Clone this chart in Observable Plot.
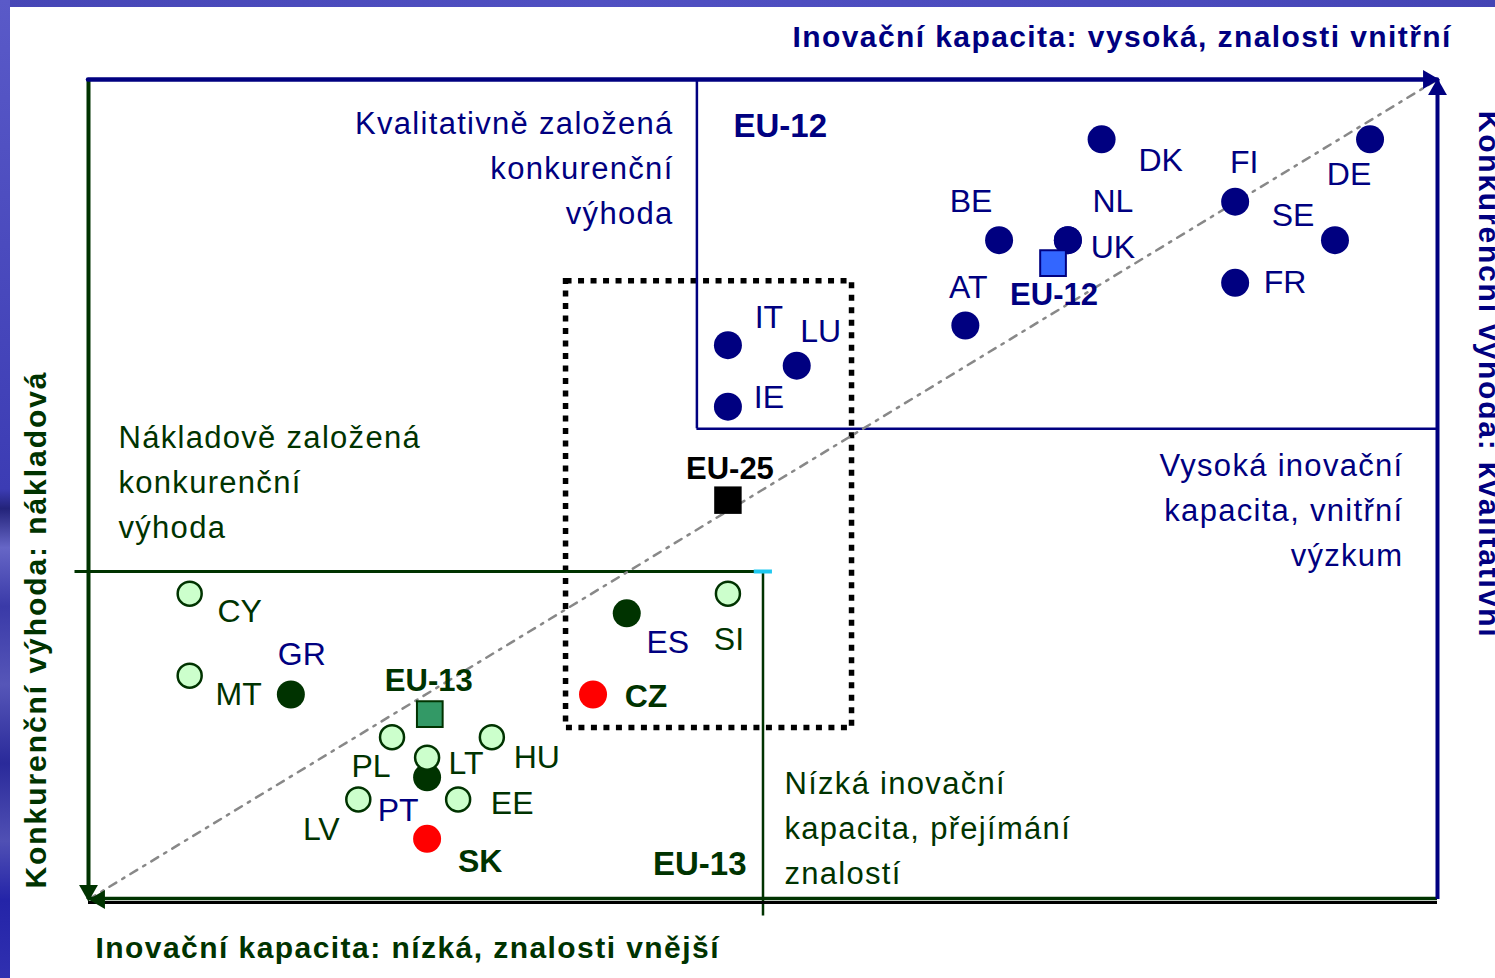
<!DOCTYPE html>
<html>
<head>
<meta charset="utf-8">
<script src="https://cdn.jsdelivr.net/npm/d3@7"></script>
<script src="https://cdn.jsdelivr.net/npm/@observablehq/plot@0.6"></script>
<style>
  html, body { margin: 0; padding: 0; background: #ffffff; overflow: hidden; width: 1495px; height: 978px; }
  #chart { position: absolute; left: 0; top: 0; }
  #topbar { position: absolute; left: 0; top: 0; width: 1495px; height: 7px; z-index: 2;
    background: linear-gradient(90deg, #4646b6, #5050c2 40%, #4a4abc 80%, #4444b4); }
  #leftbar { position: absolute; left: 0; top: 0; width: 10px; height: 978px; z-index: 2;
    background: linear-gradient(180deg, #5a5ac8 0%, #4848bc 30%, #3c3cb4 50%, #23237a 52%, #6666c6 56%, #3a3aa8 62%, #5656b8 70%, #2a2a9a 78%, #5050b4 86%, #2424a8 92%, #3030b0 100%); }
</style>
</head>
<body>
<div id="chart"></div>
<div id="topbar"></div>
<div id="leftbar"></div>
<script>
// ---------------- data ----------------
const countries   = ["DK","DE","FI","BE","NL","UK","SE","FR","AT","IT","LU","IE",
                     "GR","ES","PT",
                     "CY","MT","SI","PL","HU","LT","LV","EE",
                     "CZ","SK"];
// innovation capacity (x) and type of competitive advantage (y), 0–100 scale
const innovation  = [75.1,95.0,85.0,67.5,72.6,72.6,92.4,85.0,65.0,47.4,52.5,47.4,
                     15.0,39.9,25.1,
                     7.5,7.5,47.4,22.5,29.9,25.1,20.0,27.4,
                     37.4,25.1];
const advantage   = [92.7,92.7,85.1,80.4,80.4,80.4,80.4,75.2,70.0,67.6,65.1,60.1,
                     25.0,34.9,14.9,
                     37.3,27.3,37.3,19.8,19.8,17.3,12.2,12.2,
                     25.0,7.4];
const groups      = ["old","old","old","old","old","old","old","old","old","old","old","old",
                     "cohesion","cohesion","cohesion",
                     "new","new","new","new","new","new","new","new",
                     "focus","focus"];

const aggregates     = ["EU-12","EU-25","EU-13"];
const aggInnovation  = [71.5,47.4,25.3];
const aggAdvantage   = [77.6,48.7,22.6];

// region boundaries (same 0–100 units)
const eu12Corner = {x: 45.1, y: 57.4};
const eu13Corner = {x: 50.0, y: 40.0};
const focusBox   = [{x1: 35.4, x2: 56.6, y1: 20.9, y2: 75.4}];

// ---------------- layout / style ----------------
const W = 1495, H = 978, mL = 88, mR = 58, mT = 79, mB = 79;
const pxX = (W - mL - mR) / 100, pxY = (H - mT - mB) / 100;
const NAVY = "#000080", GREEN = "#003300", LIGHT = "#ccffcc", RED = "#ff0000";
const FONT = "'Liberation Sans', Arial, Helvetica, sans-serif";

// label offsets from the marker, in pixels
const labelOffsets = {
  DK:[59,21], DE:[-21,35], FI:[9,-39], BE:[-28,-38], NL:[45,-38], UK:[45,8], SE:[-42,-24],
  FR:[50,0], AT:[3,-38], IT:[41,-27], LU:[24,-34], IE:[41,-9],
  GR:[11,-40], ES:[41,29], PT:[-29,33],
  CY:[50,18], MT:[49,19], SI:[1,46], PL:[-21,30], HU:[45,21], LT:[39,6], LV:[-37,30], EE:[54,4],
  CZ:[53,2], SK:[53,23],
  "EU-12":[1,32], "EU-25":[2,-31], "EU-13":[-1,-33]
};

const pts = countries.map((c, i) => ({name: c, x: innovation[i], y: advantage[i], g: groups[i]}));
const aggs = aggregates.map((c, i) => ({name: c, x: aggInnovation[i], y: aggAdvantage[i]}));
const withLabel = d => {
  const o = labelOffsets[d.name] || [0, 0];
  return {...d, lx: d.x + o[0] / pxX, ly: d.y - o[1] / pxY};
};
const ptLabels = pts.map(withLabel);
const aggLabels = aggs.map(withLabel);

const notesRight = [
  {text: "Kvalitativně založená\nkonkurenční\nvýhoda", x: 43.37, y: 89.64, color: NAVY},
  {text: "Vysoká inovační\nkapacita, vnitřní\nvýzkum", x: 97.48, y: 47.93, color: NAVY}
];
const notesLeft = [
  {text: "Nákladově založená\nkonkurenční\nvýhoda", x: 2.22, y: 51.34, color: GREEN},
  {text: "Nízká inovační\nkapacita, přejímání\nznalostí", x: 51.59, y: 9.15, color: GREEN}
];

const titles = {
  top: "Inovační kapacita: vysoká, znalosti vnitřní",
  bottom: "Inovační kapacita: nízká, znalosti vnější",
  left: "Konkurenční výhoda: nákladová",
  right: "Konkurenční výhoda: kvalitativní"
};

const diagonal = [{x: 0, y: 0}, {x: 100, y: 100}];

const chart = Plot.plot({
  width: W, height: H,
  marginLeft: mL, marginRight: mR, marginTop: mT, marginBottom: mB,
  x: {domain: [0, 100], axis: null},
  y: {domain: [0, 100], axis: null},
  style: {fontFamily: FONT, background: "transparent"},
  marks: [
    // dotted focus box
    Plot.rect(focusBox, {x1: "x1", x2: "x2", y1: "y1", y2: "y2", fill: "none", stroke: "black",
      strokeWidth: 5.5, strokeDasharray: "6,6.5"}),
    // EU-12 region
    Plot.ruleX([eu12Corner.x], {y1: eu12Corner.y, y2: 100, stroke: NAVY, strokeWidth: 2.5}),
    Plot.ruleY([eu12Corner.y], {x1: eu12Corner.x, x2: 100, stroke: NAVY, strokeWidth: 2.5}),
    // EU-13 region
    Plot.ruleY([eu13Corner.y], {x1: -1, x2: eu13Corner.x, stroke: GREEN, strokeWidth: 3}),
    Plot.ruleX([eu13Corner.x], {y1: -2, y2: eu13Corner.y, stroke: GREEN, strokeWidth: 2.5}),
    Plot.ruleY([eu13Corner.y], {x1: eu13Corner.x - 0.65, x2: eu13Corner.x + 0.7, stroke: "#1ec8f0", strokeWidth: 4}),
    // diagonal
    Plot.line(diagonal, {x: "x", y: "y", stroke: "#888888", strokeWidth: 2.5, strokeDasharray: "8,7,2.5,7"}),
    // frame
    Plot.ruleX([0], {y1: 0, y2: 100, stroke: GREEN, strokeWidth: 4}),
    Plot.ruleY([0], {x1: 0, x2: 100, stroke: "black", strokeWidth: 3, dy: 3}),
    Plot.ruleY([0], {x1: 0, x2: 100, stroke: GREEN, strokeWidth: 3.5, dy: -1}),
    Plot.ruleX([100], {y1: 0, y2: 100, stroke: NAVY, strokeWidth: 4}),
    Plot.ruleY([100], {x1: 0, x2: 100, stroke: NAVY, strokeWidth: 4.5, strokeLinecap: "round"}),
    // arrowheads
    Plot.dot([{x: 100, y: 100}], {x: "x", y: "y", symbol: "triangle", r: 7, rotate: 90, dx: -9, fill: NAVY}),
    Plot.dot([{x: 100, y: 100}], {x: "x", y: "y", symbol: "triangle", r: 7, rotate: 0, dy: 10, fill: NAVY}),
    Plot.dot([{x: 0, y: 0}], {x: "x", y: "y", symbol: "triangle", r: 7, rotate: 180, dy: -9, fill: GREEN}),
    Plot.dot([{x: 0, y: 0}], {x: "x", y: "y", symbol: "triangle", r: 7, rotate: 270, dx: 11, fill: GREEN}),
    // countries
    Plot.dot(pts.filter(d => d.g === "old"), {x: "x", y: "y", r: 14, fill: NAVY}),
    Plot.dot(pts.filter(d => d.g === "cohesion"), {x: "x", y: "y", r: 14, fill: GREEN}),
    Plot.dot(pts.filter(d => d.g === "new"), {x: "x", y: "y", r: 12, fill: LIGHT, stroke: GREEN, strokeWidth: 2.5}),
    Plot.dot(pts.filter(d => d.g === "focus"), {x: "x", y: "y", r: 14, fill: RED}),
    // aggregates
    Plot.dot(aggs.filter(d => d.name === "EU-12"), {x: "x", y: "y", symbol: "square", r: 14.5, fill: "#3366ff", stroke: NAVY, strokeWidth: 2}),
    Plot.dot(aggs.filter(d => d.name === "EU-13"), {x: "x", y: "y", symbol: "square", r: 14.5, fill: "#339966", stroke: GREEN, strokeWidth: 2}),
    Plot.dot(aggs.filter(d => d.name === "EU-25"), {x: "x", y: "y", symbol: "square", r: 15.5, fill: "black"}),
    // country labels
    Plot.text(ptLabels.filter(d => d.g === "old" || d.g === "cohesion"), {x: "lx", y: "ly", text: "name", fill: NAVY, fontSize: 32}),
    Plot.text(ptLabels.filter(d => d.g === "new"), {x: "lx", y: "ly", text: "name", fill: GREEN, fontSize: 32}),
    Plot.text(ptLabels.filter(d => d.g === "focus"), {x: "lx", y: "ly", text: "name", fill: GREEN, fontSize: 32, fontWeight: "bold"}),
    Plot.text(aggLabels, {x: "lx", y: "ly", text: "name", fontSize: 31, fontWeight: "bold",
      fill: d => d.name === "EU-12" ? NAVY : d.name === "EU-13" ? GREEN : "black"}),
    // region notes
    Plot.text(notesRight, {x: "x", y: "y", text: "text", textAnchor: "end", fill: "color",
      fontSize: 31, lineHeight: 1.452}),
    Plot.text(notesLeft, {x: "x", y: "y", text: "text", textAnchor: "start", fill: "color",
      fontSize: 31, lineHeight: 1.452}),
    Plot.text(["EU-12"], {x: 47.81, y: 94.27, text: d => d, textAnchor: "start", fill: NAVY, fontSize: 33, fontWeight: "bold"}),
    Plot.text(["EU-13"], {x: 48.78, y: 4.27, text: d => d, textAnchor: "end", fill: GREEN, fontSize: 33, fontWeight: "bold"}),
    // axis titles
    Plot.text([titles.top], {x: 100.96, y: 105.12, text: d => d, textAnchor: "end",
      fill: NAVY, fontSize: 30, fontWeight: "bold"}),
    Plot.text([titles.bottom], {x: 0.52, y: -5.98, text: d => d, textAnchor: "start",
      fill: GREEN, fontSize: 30, fontWeight: "bold"}),
    Plot.text([titles.left], {x: -3.85, y: 32.8, text: d => d, textAnchor: "middle", rotate: -90,
      fill: GREEN, fontSize: 30, fontWeight: "bold"}),
    Plot.text([titles.right], {x: 103.8, y: 96.2, text: d => d, textAnchor: "start", rotate: 90,
      fill: NAVY, fontSize: 30, fontWeight: "bold"})
  ]
});

// stretch the axis titles to the lengths seen in the reference
const titleLengths = new Map([[titles.top, 658], [titles.bottom, 623], [titles.left, 516], [titles.right, 526]]);
chart.querySelectorAll("text").forEach(t => {
  const len = titleLengths.get(t.textContent);
  if (len) {
    t.setAttribute("textLength", len);
    t.setAttribute("lengthAdjust", "spacing");
  }
});
// slightly wider letter spacing in the region notes
chart.querySelectorAll('g[aria-label="text"] text').forEach(t => {
  if (t.querySelector("tspan")) t.style.letterSpacing = "1.3px";
});
document.getElementById("chart").appendChild(chart);
</script>
</body>
</html>
